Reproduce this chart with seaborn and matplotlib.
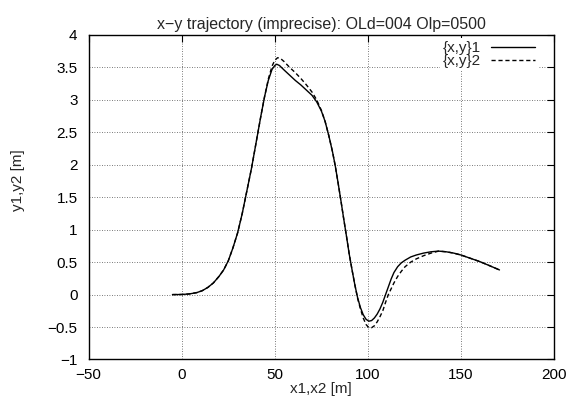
import matplotlib
matplotlib.use("Agg")
import matplotlib.pyplot as plt
import seaborn as sns
import pandas as pd

# === DATA ===
x1 = [-5, 0, 4, 8, 11, 14, 17, 20, 22.5, 25, 27.5, 30, 32.5, 35, 37.5, 40, 42.5,
      44.5, 46.5, 48.5, 50, 51, 52.5, 55, 58, 61, 64, 67, 70, 72.5, 75, 77, 79,
      81, 82.5, 84, 85.5, 87, 88.5, 90, 91.5, 93, 94.5, 96, 97.5, 99, 100.5, 102,
      103.5, 105, 106.5, 108, 109.5, 111, 112.5, 114, 116, 118, 120, 123, 126,
      130, 134, 138, 142, 146, 150, 155, 160, 165, 170.7]
y1 = [0, 0.002, 0.01, 0.03, 0.06, 0.11, 0.18, 0.28, 0.38, 0.52, 0.72, 0.95, 1.25,
      1.6, 1.95, 2.35, 2.75, 3.05, 3.3, 3.47, 3.53, 3.55, 3.53, 3.46, 3.38, 3.3,
      3.23, 3.15, 3.07, 2.97, 2.83, 2.67, 2.45, 2.2, 1.98, 1.72, 1.45, 1.17, 0.9,
      0.62, 0.38, 0.15, -0.05, -0.2, -0.31, -0.38, -0.41, -0.4, -0.36, -0.3, -0.22,
      -0.12, 0.0, 0.12, 0.24, 0.34, 0.43, 0.49, 0.53, 0.58, 0.61, 0.64, 0.66, 0.67,
      0.66, 0.64, 0.61, 0.56, 0.51, 0.45, 0.38]

x2 = [-5, 0, 4, 8, 11, 14, 17, 20, 22.5, 25, 27.5, 30, 32.5, 35, 37.5, 40, 42.5,
      44.5, 46.5, 48.5, 50, 51.5, 53, 55, 58, 61, 64, 67, 70, 72.5, 75, 77, 79,
      81, 82.5, 84, 85.5, 87, 88.5, 90, 91.5, 93, 94.5, 96, 97.5, 99, 100.5, 102,
      103.5, 105, 106.5, 108, 109.5, 111, 112.5, 114, 116, 118, 120, 123, 126,
      130, 134, 138, 142, 146, 150, 155, 160, 165, 170.7]
y2 = [0, 0.002, 0.01, 0.03, 0.06, 0.11, 0.18, 0.28, 0.38, 0.52, 0.72, 0.95, 1.25,
      1.6, 1.95, 2.35, 2.75, 3.05, 3.32, 3.52, 3.61, 3.65, 3.64, 3.59, 3.5, 3.42,
      3.33, 3.23, 3.12, 3.0, 2.84, 2.67, 2.45, 2.2, 1.98, 1.72, 1.45, 1.17, 0.9,
      0.62, 0.38, 0.15, -0.06, -0.22, -0.36, -0.46, -0.51, -0.51, -0.48, -0.42,
      -0.34, -0.25, -0.12, 0.0, 0.09, 0.18, 0.28, 0.36, 0.43, 0.5, 0.55, 0.6, 0.64,
      0.67, 0.66, 0.64, 0.61, 0.56, 0.51, 0.45, 0.38]

xticks = [-50, 0, 50, 100, 150, 200]
xticklabels = ["\u221250", "0", "50", "100", "150", "200"]
yticks = [-1, -0.5, 0, 0.5, 1, 1.5, 2, 2.5, 3, 3.5, 4]
yticklabels = ["\u22121", "\u22120.5", "0", "0.5", "1", "1.5", "2", "2.5", "3", "3.5", "4"]

df1 = pd.DataFrame({"x": x1, "y": y1})
df2 = pd.DataFrame({"x": x2, "y": y2})

# === STYLE ===
sns.set_style("white")
plt.rcParams["font.family"] = ["Liberation Sans", "DejaVu Sans"]
plt.rcParams["font.size"] = 11

fig = plt.figure(figsize=(5.67, 3.99), dpi=100)
ax = fig.add_axes([0.1564, 0.099, 0.8207, 0.8133])

sns.lineplot(data=df1, x="x", y="y", sort=False, ax=ax, color="black",
             linewidth=1.0, label="{x,y}1")
sns.lineplot(data=df2, x="x", y="y", sort=False, ax=ax, color="black",
             linewidth=1.0, label="{x,y}2")
ax.lines[1].set_dashes([3, 2])

ax.set_xlim(-50, 200)
ax.set_ylim(-1, 4)
ax.set_xticks(xticks)
ax.set_xticklabels(xticklabels)
ax.set_yticks(yticks)
ax.set_yticklabels(yticklabels)

ax.grid(True, linestyle=(0, (1, 2)), color="0.3", linewidth=0.6)
ax.tick_params(direction="in", top=True, right=True, length=5, width=0.8,
               labelsize=11, colors="black")
ax.tick_params(axis="x", pad=6)
ax.tick_params(axis="y", pad=8)
for s in ax.spines.values():
    s.set_color("black")
    s.set_linewidth(1.0)

ax.set_title("x\u2212y trajectory (imprecise): OLd=004 Olp=0500", fontsize=11.5, pad=4)
ax.set_xlabel("x1,x2 [m]", fontsize=11, labelpad=0)
ax.set_ylabel("y1,y2 [m]", fontsize=11)
ax.yaxis.set_label_coords(-0.136, 0.553)

leg = ax.legend(loc="upper right", bbox_to_anchor=(0.9656, 0.99), markerfirst=False,
                frameon=True, facecolor="white", edgecolor="none", framealpha=1,
                handlelength=2.9, handletextpad=0.65, labelspacing=-0.08,
                borderaxespad=0, borderpad=0.2, fontsize=11)
leg.get_frame().set_boxstyle("square", pad=0)
for t in leg.get_texts():
    t.set_ha("right")

fig.savefig("out.png", dpi=100)
